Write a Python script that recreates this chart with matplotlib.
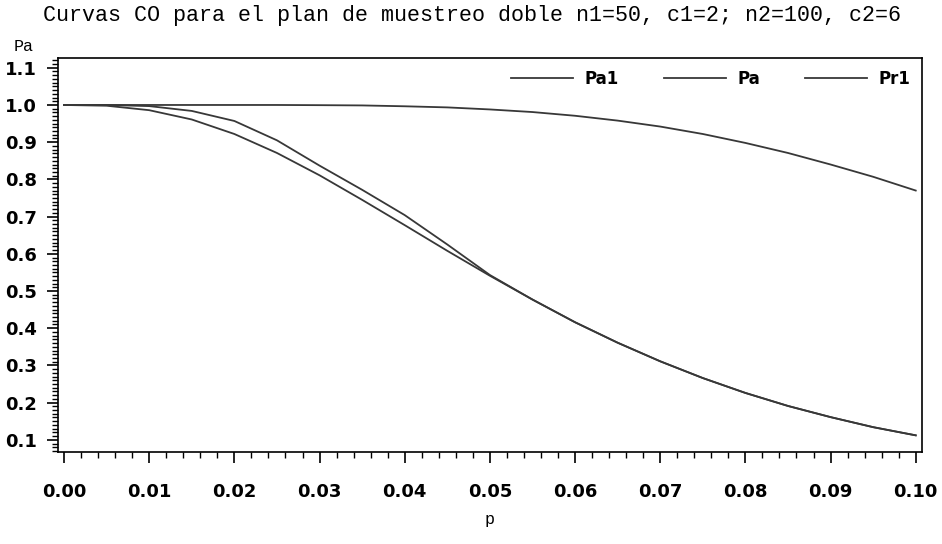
import numpy as np
import matplotlib
matplotlib.use('Agg')
import matplotlib.pyplot as plt
from matplotlib.ticker import MultipleLocator, FormatStrFormatter

# fraccion defectuosa
p = [0.000, 0.005, 0.010, 0.015, 0.020, 0.025, 0.030, 0.035, 0.040, 0.045,
     0.050, 0.055, 0.060, 0.065, 0.070, 0.075, 0.080, 0.085, 0.090, 0.095, 0.100]

# prob. de aceptacion en la primera muestra
pa1 = [1.000, 0.998, 0.986, 0.961, 0.922, 0.871, 0.811, 0.745, 0.677, 0.608,
       0.541, 0.477, 0.416, 0.361, 0.311, 0.266, 0.226, 0.191, 0.161, 0.134, 0.112]

# prob. de aceptacion total
pa = [1.000, 1.000, 0.997, 0.984, 0.957, 0.905, 0.837, 0.772, 0.704, 0.625,
      0.543, 0.477, 0.416, 0.361, 0.311, 0.266, 0.226, 0.191, 0.161, 0.134, 0.112]

# 1 - prob. de rechazo en la primera muestra
pr1 = [1.000, 1.000, 1.000, 1.000, 1.000, 1.000, 0.9995, 0.9988, 0.9965, 0.9935,
       0.988, 0.981, 0.971, 0.958, 0.942, 0.922, 0.898, 0.871, 0.840, 0.807, 0.770]

fig = plt.figure(figsize=(9.42, 5.44), dpi=100)
ax = fig.add_axes([0.0616, 0.1691, 0.9172, 0.7243])

lc = '#383838'
ax.plot(p, pa1, color=lc, lw=1.3, label='Pa1')
ax.plot(p, pa, color=lc, lw=1.3, label='Pa')
ax.plot(p, pr1, color=lc, lw=1.3, label='Pr1')

ax.set_xlim(-0.000704, 0.10074)
ax.set_ylim(0.0672, 1.1263)

ax.xaxis.set_minor_locator(MultipleLocator(0.002))
ax.yaxis.set_minor_locator(MultipleLocator(0.01))
ax.set_xticks([i / 100 for i in range(0, 11)])
ax.set_yticks([i / 10 for i in range(1, 12)])
ax.xaxis.set_major_formatter(FormatStrFormatter('%.2f'))
ax.yaxis.set_major_formatter(FormatStrFormatter('%.1f'))

ax.tick_params(axis='both', which='major', direction='out', length=8, width=1.2,
               labelsize=13)
ax.tick_params(axis='both', which='minor', direction='out', length=4, width=1.0)
ax.tick_params(axis='x', pad=14)
ax.tick_params(axis='y', pad=7)
for lab in ax.get_xticklabels() + ax.get_yticklabels():
    lab.set_fontfamily('DejaVu Sans')
    lab.set_fontweight('bold')

for s in ax.spines.values():
    s.set_linewidth(1.2)

leg = ax.legend(loc='upper right', ncol=3, frameon=False,
                prop={'family': 'DejaVu Sans', 'weight': 'bold', 'size': 12},
                handlelength=3.7, handletextpad=0.7, columnspacing=2.7,
                borderaxespad=0.3, bbox_to_anchor=(1.0, 1.0))

mono = 'Liberation Mono'
fig.text(0.5015, 0.972, 'Curvas CO para el plan de muestreo doble n1=50, c1=2; n2=100, c2=6',
         ha='center', va='center', family=mono, fontsize=15.6)
fig.text(0.014, 0.915, 'Pa', ha='left', va='center', family=mono, fontsize=12)
fig.text(0.52, 0.045, 'p', ha='center', va='center', family=mono, fontsize=12)

fig.savefig('out.png', dpi=100)
